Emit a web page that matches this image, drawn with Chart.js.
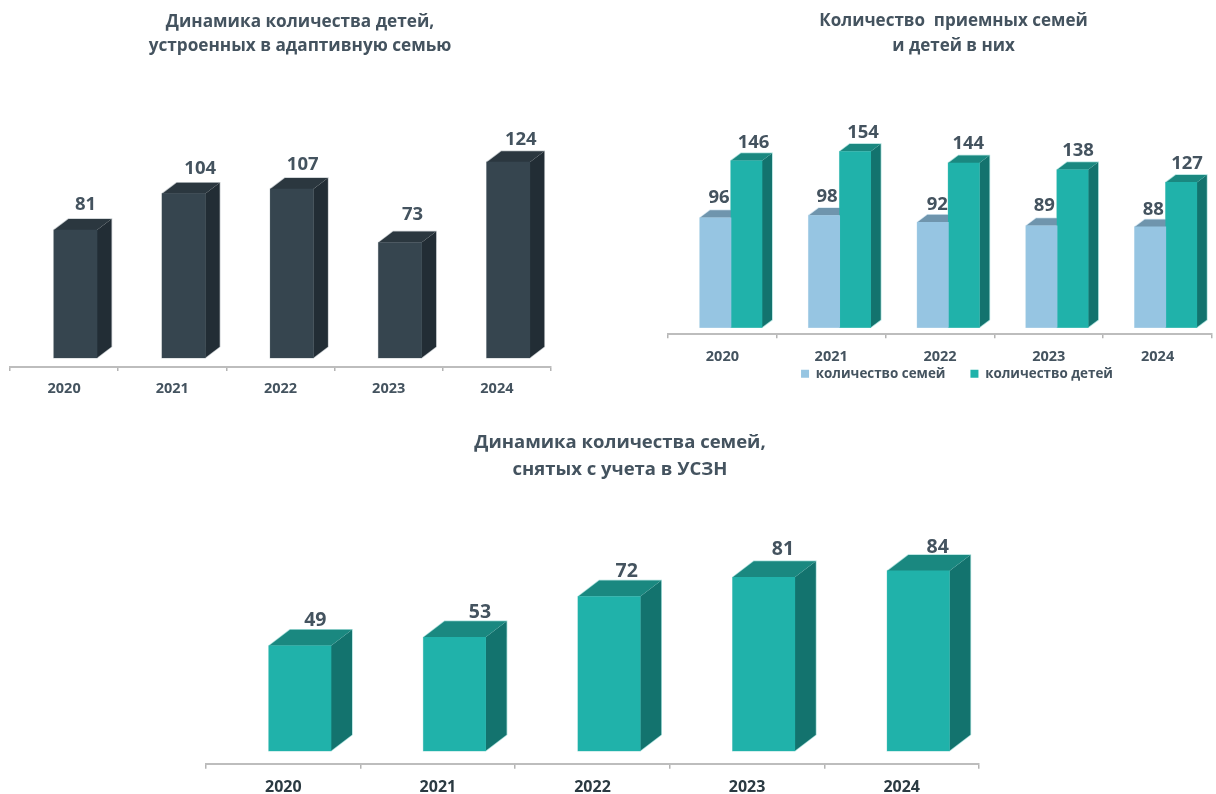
<!DOCTYPE html>
<html lang="ru"><head><meta charset="utf-8">
<script src="https://cdn.jsdelivr.net/npm/chart.js@4"></script>
<style>
html,body{margin:0;padding:0;background:#fff;overflow:hidden;width:1216px;height:794px}
canvas{position:absolute}
</style></head><body>
<canvas id="p1" width="600" height="415" style="left:0;top:0"></canvas>
<canvas id="p2" width="576" height="460" style="left:640px;top:0"></canvas>
<canvas id="p3" width="1216" height="400" style="left:0;top:420px"></canvas>
<script>
const years = ['2020','2021','2022','2023','2024'];
const adoptedChildren = [81,104,107,73,124];
const fosterFamilies = [96,98,92,89,88];
const fosterChildren = [146,154,144,138,127];
const removedFamilies = [49,53,72,81,84];
const title1 = ['Динамика количества детей,','устроенных в адаптивную семью'];
const title2 = ['Количество  приемных семей','и детей в них'];
const title3 = ['Динамика количества семей,','снятых с учета в УСЗН'];
const legendFamilies = 'количество семей';
const legendChildren = 'количество детей';

const SLATE='#44535f', FONT='"Open Sans",sans-serif', NUMFONT='"Open Sans",sans-serif';
const DARK={front:'#36454f',top:'#2b373f',side:'#222d35',edge:'#c6cbce'};
const LIGHT={front:'#96c5e2',top:'#6f95ad',side:'#6f95ad',edge:'#d5e7f2'};
const TEAL={front:'#20b2aa',top:'#1a8880',side:'#13736e',edge:'#aadfdb'};

function depthPlugin(c){ return {
  id:'threeD',
  afterLayout(chart){
    const t=chart.titleBlock;
    if(t){const w=t.right-t.left;t.left=c.titleCx-c.left-w/2;t.right=t.left+w;}
    const l=chart.legend;
    if(l&&c.legendCx){const w=l.right-l.left;l.left=c.legendCx-c.left-w/2;l.right=l.left+w;const h=l.bottom-l.top;l.top=c.legendTop-c.top;l.bottom=l.top+h;}
  },
  beforeDatasetsDraw(chart){
    const ctx=chart.ctx;
    chart.data.datasets.forEach((d,i)=>{
      const col=c.colors[i];
      chart.getDatasetMeta(i).data.forEach(el=>{
        const x0=el.x-el.width/2,x1=el.x+el.width/2,y=el.y,b=el.base;
        ctx.strokeStyle=col.edge;ctx.lineWidth=1.5;ctx.beginPath();ctx.moveTo(x0,b);ctx.lineTo(x0,y);ctx.lineTo(x0+c.dx,y-c.dy);ctx.lineTo(x1+c.dx,y-c.dy);ctx.lineTo(x1+c.dx,b-c.dy);ctx.lineTo(x1,b);ctx.closePath();ctx.stroke();
      });
    });
    chart.data.datasets.forEach((d,i)=>{
      const col=c.colors[i];
      chart.getDatasetMeta(i).data.forEach(el=>{
        const x0=el.x-el.width/2,x1=el.x+el.width/2,y=el.y,b=el.base;
        ctx.fillStyle=col.side;ctx.beginPath();ctx.moveTo(x1,y);ctx.lineTo(x1+c.dx,y-c.dy);ctx.lineTo(x1+c.dx,b-c.dy);ctx.lineTo(x1,b);ctx.closePath();ctx.fill();
        ctx.fillStyle=col.top;ctx.beginPath();ctx.moveTo(x0,y);ctx.lineTo(x0+c.dx,y-c.dy);ctx.lineTo(x1+c.dx,y-c.dy);ctx.lineTo(x1,y);ctx.closePath();ctx.fill();
      });
    });
  },
  afterDatasetsDraw(chart){
    const ctx=chart.ctx;
    ctx.save();
    ctx.font='bold '+c.numSize+'px '+NUMFONT;ctx.fillStyle=SLATE;ctx.textAlign='center';ctx.textBaseline='middle';
    chart.data.datasets.forEach((d,i)=>{
      chart.getDatasetMeta(i).data.forEach((el,k)=>{
        const v=d.data[k].y;
        ctx.fillText(String(v),el.x+c.nudgeX[i][k],el.y-c.nudgeUp[i][k]);
      });
    });
    ctx.restore();
  }
};}

function build(id,c){
  const cv=document.getElementById(id);
  const padL=c.areaL-c.left,padR=cv.width-(c.areaR-c.left);
  const datasets=c.series.map((s,i)=>({
    label:c.names[i],
    data:s.map((v,k)=>({x:k,y:v})),
    backgroundColor:c.colors[i].front,
    borderWidth:0,
    xAxisID:'xb',yAxisID:'y',barThickness:c.barW,clip:false
  }));
  const chart=new Chart(cv,{
    type:'bar',
    data:{labels:years,datasets},
    options:{
      responsive:false,animation:false,devicePixelRatio:1,
      layout:{padding:{left:padL,right:padR,top:0,bottom:0}},
      plugins:{
        tooltip:{enabled:false},
        title:{display:true,text:c.title,color:SLATE,font:{family:FONT,weight:'bold',size:c.titleSize,lineHeight:c.titleLH+'px'},padding:{top:c.titleTop,bottom:6}},
        legend:{display:!!c.legendCx,position:'bottom',labels:{boxWidth:8,boxHeight:8,color:SLATE,padding:25,font:{family:FONT,weight:'bold',size:13.4}}}
      },
      scales:{
        x:{type:'category',labels:years,offset:true,position:'bottom',
           grid:{offset:true,drawOnChartArea:false,drawTicks:true,tickLength:c.tickLen,color:'#b4b4b4',lineWidth:1.5},
           border:{display:true,color:'#bdbdbd',width:2},
           ticks:{color:c.tickColor,padding:c.tickPad,maxRotation:0,autoSkip:false,font:{family:FONT,weight:'bold',size:c.tickSize}}},
        xb:{type:'linear',axis:'x',display:false,offset:false,grid:{offset:false},position:'bottom',
            min:(c.areaL-c.bar0)/c.step,max:(c.areaR-c.bar0)/c.step},
        y:{type:'linear',display:false,min:-(c.axisY-c.baseY)/c.ppu,max:200}
      }
    },
    plugins:[depthPlugin(c)]
  });
  const area=chart.chartArea;
  chart.options.layout.padding.bottom=Math.max(0,area.bottom-(c.axisY-c.top));
  chart.update();
  chart.options.scales.y.max=(c.baseY-(chart.chartArea.top+c.top))/c.ppu;
  chart.update();
  return chart;
}

build('p1',{left:0,top:0,areaL:10,areaR:551,bar0:75.5,step:108.2,barW:43,axisY:367,baseY:357.7,ppu:1.577,dx:14.5,dy:11,
  series:[adoptedChildren],names:['дети'],colors:[DARK],title:title1,titleCx:300,titleSize:17.2,titleLH:24,titleTop:10,
  tickColor:SLATE,tickSize:14.5,tickPad:9.5,tickLen:4,numSize:18.5,
  nudgeX:[[10,16.5,10.8,12.5,12.5]],nudgeUp:[[25,24.7,24.7,27.7,22.8]]});
build('p2',{left:640,top:0,areaL:668,areaR:1212,bar0:731,step:108.7,barW:31,axisY:334.3,baseY:327.3,ppu:1.141,dx:10,dy:7.5,
  series:[fosterFamilies,fosterChildren],names:[legendFamilies,legendChildren],colors:[LIGHT,TEAL],title:title2,titleCx:953.5,titleSize:17,titleLH:25,titleTop:9,
  tickColor:SLATE,tickSize:14.5,tickPad:9.5,tickLen:4,numSize:18.5,legendCx:957,legendTop:342,
  nudgeX:[[3.5,2.8,4.4,2.7,3],[7,7.8,4.4,5.4,5.7]],nudgeUp:[[19.8,18.5,17.6,19.7,17.6],[18,18.6,19.3,18.8,18.7]]});
build('p3',{left:0,top:420,areaL:206,areaR:979,bar0:300,step:154.6,barW:62,axisY:763.7,baseY:750.7,ppu:2.14,dx:21,dy:16,
  series:[removedFamilies],names:['семьи'],colors:[TEAL],title:title3,titleCx:620,titleSize:18.5,titleLH:27,titleTop:9,
  tickColor:'#2b3a42',tickSize:16,tickPad:9.5,tickLen:5,numSize:19.5,
  nudgeX:[[15.3,25.4,17.5,19.2,19.3]],nudgeUp:[[25.3,25.1,25.1,27.5,23.8]]});
</script>
</body></html>
